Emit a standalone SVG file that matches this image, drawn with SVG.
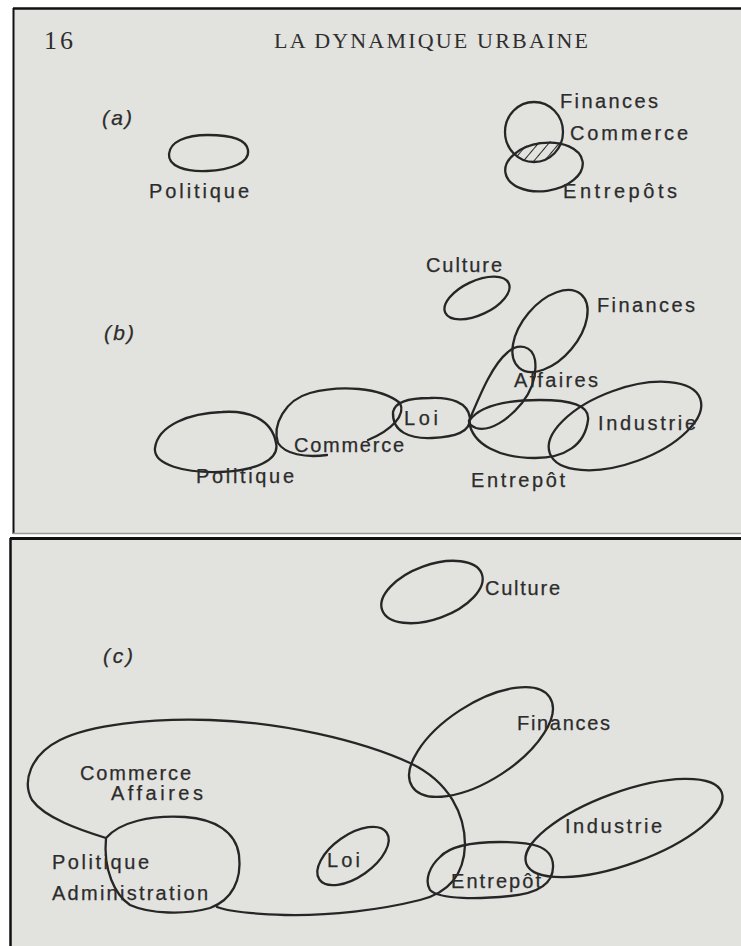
<svg xmlns="http://www.w3.org/2000/svg" width="741" height="946" viewBox="0 0 741 946">
<style>
.paper{fill:#e2e2df}
.blob{fill:none;stroke:#262626;stroke-width:2.3;stroke-linecap:round;stroke-linejoin:round}
.lbl{font-family:"Liberation Sans",Arial,sans-serif;font-size:20px;fill:#2c2c2c;stroke:#2c2c2c;stroke-width:0.25}
.tag{font-family:"Liberation Sans",Arial,sans-serif;font-size:21px;font-style:italic;fill:#2c2c2c;stroke:#2c2c2c;stroke-width:0.25}
.head{font-family:"Liberation Serif","Times New Roman",serif;fill:#2e2e2e}
</style>
<defs>
<pattern id="hatch" patternUnits="userSpaceOnUse" width="8" height="8" patternTransform="rotate(40)">
<line x1="0" y1="0" x2="0" y2="8" stroke="#262626" stroke-width="2"/>
</pattern>
<clipPath id="clipTop"><ellipse cx="534" cy="132" rx="29" ry="30"/></clipPath>
</defs>
<rect width="741" height="946" fill="#ffffff"/>
<g id="page-top">
<rect class="paper" x="13" y="8" width="728" height="526"/>
<line x1="13" y1="8.5" x2="741" y2="8.5" stroke="#111" stroke-width="2.5"/>
<line x1="13.5" y1="8" x2="13.5" y2="534" stroke="#111" stroke-width="2"/>
<line x1="13" y1="533.5" x2="741" y2="533.5" stroke="#9a9a9a" stroke-width="1.5"/>
</g>
<g id="page-bottom">
<rect class="paper" x="10" y="538" width="731" height="408"/>
<line x1="10" y1="538.5" x2="741" y2="538.5" stroke="#111" stroke-width="3"/>
<line x1="10.5" y1="538" x2="10.5" y2="946" stroke="#111" stroke-width="2.5"/>
</g>
<g id="header">
<text class="head" x="44" y="49" font-size="26" textLength="29">16</text>
<text class="head" x="274" y="48" font-size="22" textLength="314">LA DYNAMIQUE URBAINE</text>
</g>
<g id="connectors"></g>
<!-- panel (a) -->
<g id="a-tag"><text class="tag" x="102" y="125" textLength="30">(a)</text></g>
<g id="a-politique">
<path class="blob" d="M248,150 C246,138 228,135 208,135 C185,135 170,142 169,154 C168,166 185,172 207,171 C230,170 250,163 248,150 Z"/>
<text class="lbl" x="149" y="198" textLength="100">Politique</text>
</g>
<g id="a-finances-commerce-entrepots">
<path d="M505,166 A39,24 -8 1 0 583,166 A39,24 -8 1 0 505,166 Z" fill="url(#hatch)" clip-path="url(#clipTop)" stroke="none"/>
<ellipse class="blob" cx="534" cy="132" rx="29" ry="30"/>
<ellipse class="blob" cx="544" cy="167" rx="39" ry="24" transform="rotate(-8 544 167)"/>
<text class="lbl" x="560" y="108" textLength="98">Finances</text>
<text class="lbl" x="570" y="140" textLength="118">Commerce</text>
<text class="lbl" x="563" y="198" textLength="114">Entrepôts</text>
</g>
<!-- panel (b) -->
<g id="b-tag"><text class="tag" x="104" y="340" textLength="30">(b)</text></g>
<g id="b-culture">
<ellipse class="blob" cx="477" cy="298" rx="35" ry="17" transform="rotate(-25 477 298)"/>
<text class="lbl" x="426" y="272" textLength="76">Culture</text>
</g>
<g id="b-finances">
<ellipse class="blob" cx="550" cy="331" rx="48" ry="28" transform="rotate(-50 550 331)"/>
<text class="lbl" x="597" y="312" textLength="98">Finances</text>
</g>
<g id="b-politique">
<path class="blob" d="M276,443 C272,420 250,410 222,412 C190,413 158,425 155,448 C153,465 185,473 220,472 C255,471 280,460 276,443 Z"/>
<text class="lbl" x="196" y="483" textLength="98">Politique</text>
</g>
<g id="b-commerce">
<path class="blob" d="M327,455 C305,458 285,454 278,443 C272,425 285,400 310,393 C340,385 380,387 400,403 C406,415 392,430 368,440"/>
<text class="lbl" x="294" y="452" textLength="110">Commerce</text>
</g>
<g id="b-loi">
<path class="blob" d="M393,412 C395,402 410,398 430,398 C450,397 468,402 470,418 C471,432 455,437 432,438 C410,439 392,432 393,412 Z"/>
<text class="lbl" x="404" y="425" textLength="34">Loi</text>
</g>
<g id="b-affaires">
<path class="blob" d="M469,421 C480,395 492,365 508,352 C518,343 532,345 535,360 C537,375 532,390 522,403 C508,420 490,432 476,428 C471,426 469,424 469,421 Z"/>
<text class="lbl" x="514" y="387" textLength="84">Affaires</text>
</g>
<g id="b-entrepot">
<path class="blob" d="M469,421 C480,405 510,400 540,400 C570,400 590,405 588,420 C585,445 565,458 535,458 C500,458 472,445 469,421 Z"/>
<text class="lbl" x="471" y="487" textLength="94">Entrepôt</text>
</g>
<g id="b-industrie">
<ellipse class="blob" cx="625" cy="426" rx="80" ry="37" transform="rotate(-20 625 426)"/>
<text class="lbl" x="598" y="430" textLength="98">Industrie</text>
</g>
<!-- panel (c) -->
<g id="c-tag"><text class="tag" x="103" y="663" textLength="30">(c)</text></g>
<g id="c-culture">
<ellipse class="blob" cx="432" cy="592" rx="53" ry="27" transform="rotate(-20 432 592)"/>
<text class="lbl" x="485" y="595" textLength="75">Culture</text>
</g>
<g id="c-commerce-affaires">
<path class="blob" d="M106,838 C80,830 45,818 32,800 C22,782 30,755 60,740 C90,725 150,718 210,720 C280,722 360,740 410,763 C450,782 465,815 465,845 C464,875 448,893 420,900 C380,910 330,916 285,915 C255,914 230,912 217,907"/>
<text class="lbl" x="80" y="780" textLength="111">Commerce</text>
<text class="lbl" x="111" y="800" textLength="92">Affaires</text>
</g>
<g id="c-politique-administration">
<path class="blob" d="M106,838 C120,822 150,815 185,817 C215,819 236,832 239,855 C242,880 232,900 210,908 C185,915 150,914 130,905 C115,895 103,870 106,838 Z"/>
<text class="lbl" x="52" y="869" textLength="97">Politique</text>
<text class="lbl" x="52" y="900" textLength="156">Administration</text>
</g>
<g id="c-loi">
<ellipse class="blob" cx="353" cy="856" rx="41" ry="21" transform="rotate(-35 353 856)"/>
<text class="lbl" x="327" y="867" textLength="33">Loi</text>
</g>
<g id="c-finances">
<ellipse class="blob" cx="481" cy="742" rx="82" ry="38" transform="rotate(-33 481 742)"/>
<text class="lbl" x="517" y="730" textLength="93">Finances</text>
</g>
<g id="c-industrie">
<ellipse class="blob" cx="624" cy="828" rx="104" ry="36" transform="rotate(-20 624 828)"/>
<text class="lbl" x="565" y="833" textLength="97">Industrie</text>
</g>
<g id="c-entrepot">
<path class="blob" d="M440,857 C450,846 475,842 500,842 C530,842 552,845 553,865 C554,883 540,893 510,896 C480,899 440,900 430,890 C424,880 430,866 440,857 Z"/>
<text class="lbl" x="451" y="888" textLength="90">Entrepôt</text>
</g>
</svg>
